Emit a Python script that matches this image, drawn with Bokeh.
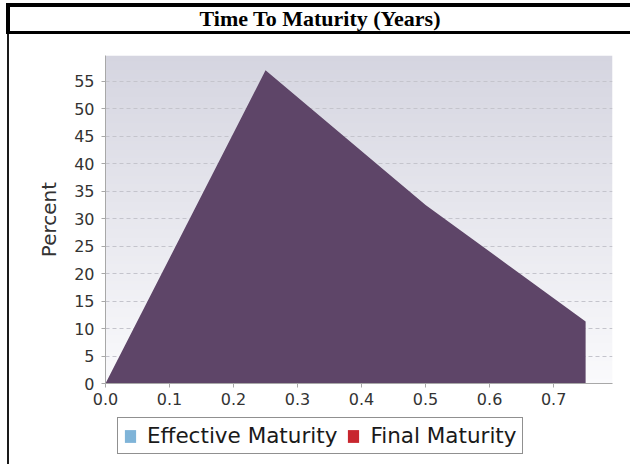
import numpy as np
from bokeh.plotting import figure
from bokeh.models import (Range1d, FixedTicker, PrintfTickFormatter, Legend,
                          LegendItem, Div)
from bokeh.layouts import column, row
from bokeh.embed import file_html
from bokeh.resources import INLINE

# ---- data ----
TITLE = "Time To Maturity (Years)"
Y_LABEL = "Percent"
YEARS = [0.0, 0.25, 0.5, 0.75]
PERCENT = [0.0, 57.0, 32.5, 11.3]
SERIES = ["Effective Maturity", "Final Maturity"]
SERIES_COLORS = ["#7fb4d8", "#c8262e"]
AREA_COLOR = "#5e4568"
X_TICKS = [0.0, 0.1, 0.2, 0.3, 0.4, 0.5, 0.6, 0.7]
Y_TICKS = [0, 5, 10, 15, 20, 25, 30, 35, 40, 45, 50, 55]
X_END = 0.792
Y_END = 59.7

p = figure(width=621, height=383,
           x_range=Range1d(0, X_END), y_range=Range1d(0, Y_END),
           output_backend="svg", toolbar_location=None,
           min_border_left=96, min_border_right=18,
           min_border_top=21, min_border_bottom=34, margin=0)
p.outline_line_color = None
p.background_fill_color = "white"
p.border_fill_color = "white"

# gradient plot background
n = 256
top = np.array([213, 213, 224], dtype=float)
bot = np.array([250, 250, 252], dtype=float)
t = np.linspace(0, 1, n)[:, None]
cols = (bot * (1 - t) + top * t).round().astype(np.uint8)
img = np.empty((n, 1), dtype=np.uint32)
view = img.view(dtype=np.uint8).reshape((n, 1, 4))
view[:, 0, 0] = cols[:, 0]
view[:, 0, 1] = cols[:, 1]
view[:, 0, 2] = cols[:, 2]
view[:, 0, 3] = 255
p.image_rgba(image=[img], x=0, y=0, dw=X_END, dh=Y_END, level="image")

# area
p.varea(x=YEARS, y1=0, y2=PERCENT, fill_color=AREA_COLOR, fill_alpha=1)

# grid
p.xgrid.grid_line_color = None
p.ygrid.ticker = FixedTicker(ticks=Y_TICKS)
p.ygrid.grid_line_color = "#c4c4cc"
p.ygrid.grid_line_dash = "4 3"
p.ygrid.grid_line_width = 1

# axes
for ax in (p.xaxis[0], p.yaxis[0]):
    ax.axis_line_color = "#a8a8a8"
    ax.major_tick_line_color = "#a8a8a8"
    ax.major_tick_out = 4
    ax.major_tick_in = 0
    ax.minor_tick_line_color = None
    ax.major_label_text_font = "DejaVu Sans"
    ax.major_label_text_font_size = "16px"
    ax.major_label_text_color = "#333333"

p.xaxis.ticker = FixedTicker(ticks=X_TICKS)
p.xaxis.formatter = PrintfTickFormatter(format="%.1f")
p.xaxis.major_label_standoff = 5

p.yaxis.ticker = FixedTicker(ticks=Y_TICKS)
p.yaxis.major_label_standoff = 7
p.yaxis.axis_label = Y_LABEL
p.yaxis.axis_label_text_font = "DejaVu Sans"
p.yaxis.axis_label_text_font_size = "20px"
p.yaxis.axis_label_text_font_style = "normal"
p.yaxis.axis_label_text_color = "#333333"
p.yaxis.axis_label_standoff = 10

# legend strip (frame aligned with the plot above)
NAN = float("nan")
lf = figure(width=621, height=47, x_range=Range1d(0, 1), y_range=Range1d(0, 1),
            output_backend="svg", toolbar_location=None,
            x_axis_location=None, y_axis_location=None,
            min_border=0, margin=0)
lf.outline_line_color = None
lf.grid.grid_line_color = None
lf.background_fill_color = "white"
lf.border_fill_color = "white"
r_eff = lf.quad(left=[NAN], right=[NAN], top=[NAN], bottom=[NAN],
                fill_color=SERIES_COLORS[0], line_color=None)
r_fin = lf.quad(left=[NAN], right=[NAN], top=[NAN], bottom=[NAN],
                fill_color=SERIES_COLORS[1], line_color=None)
legend = Legend(items=[LegendItem(label=SERIES[0], renderers=[r_eff]),
                       LegendItem(label=SERIES[1], renderers=[r_fin])],
                orientation="horizontal", location=(12, 10),
                label_text_font="DejaVu Sans", label_text_font_size="21.5px",
                label_text_color="#1a1a1a",
                glyph_width=14, glyph_height=16, label_standoff=10,
                spacing=9, padding=5, margin=0,
                border_line_color="#222222", border_line_width=1,
                background_fill_color="white", background_fill_alpha=1)
lf.add_layout(legend)

title_div = Div(text=TITLE, width=624, height=31, margin=0,
                styles={"border": "4px solid black",
                        "border-right": "none",
                        "border-bottom-width": "3px",
                        "box-sizing": "border-box",
                        "text-align": "center",
                        "font-family": "Liberation Serif",
                        "font-weight": "bold",
                        "font-size": "22px",
                        "line-height": "24px",
                        "color": "black",
                        "background-color": "white"})
line_div = Div(text="", width=2, height=430, margin=(0, 0, 0, 1),
               styles={"background-color": "#1a1a1a"})

layout = column(title_div,
                row(line_div, column(p, lf, spacing=0, margin=0),
                    spacing=0, margin=0),
                spacing=0, margin=(3, 0, 0, 6))

open("out.html", "w").write(file_html(layout, INLINE))
